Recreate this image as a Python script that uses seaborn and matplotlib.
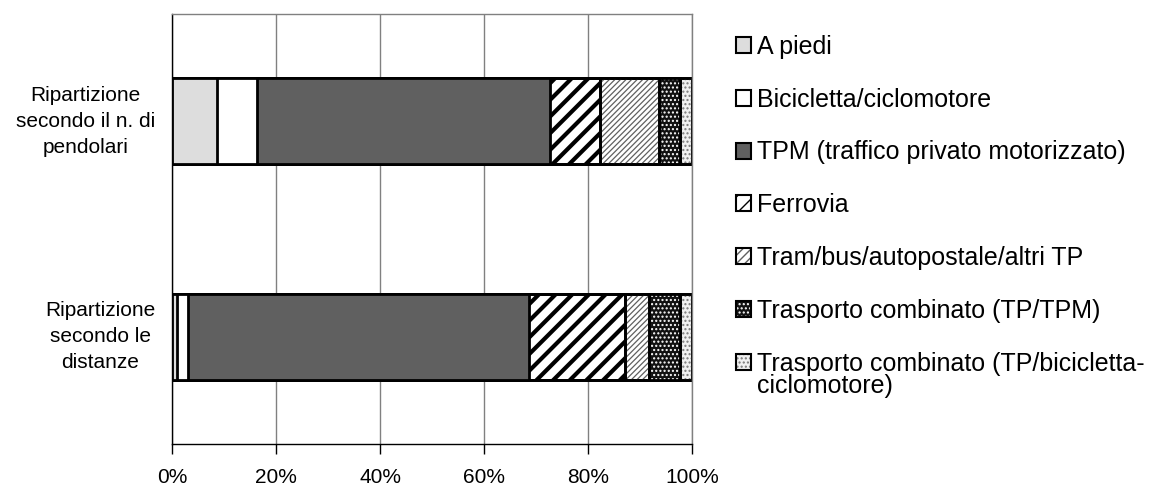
import numpy as np
import pandas as pd
import matplotlib
matplotlib.use("Agg")
import matplotlib.pyplot as plt
import seaborn as sns
from matplotlib.patches import Patch
from matplotlib.legend_handler import HandlerTuple

# ---------------- data ----------------
categories = ["Ripartizione\nsecondo il n. di\npendolari",
              "Ripartizione\nsecondo le\ndistanze"]
modes = ["A piedi",
         "Bicicletta/ciclomotore",
         "TPM (traffico privato motorizzato)",
         "Ferrovia",
         "Tram/bus/autopostale/altri TP",
         "Trasporto combinato (TP/TPM)",
         "Trasporto combinato (TP/bicicletta-ciclomotore)"]
a_piedi = [8.6, 1.0]
bicicletta = [7.8, 2.0]
tpm = [56.3, 65.6]
ferrovia = [9.7, 18.5]
tram_bus = [11.3, 4.6]
comb_tp_tpm = [4.0, 6.0]
comb_tp_bici = [2.3, 2.3]
x_ticks = [0, 20, 40, 60, 80, 100]
x_ticklabels = ["0%", "20%", "40%", "60%", "80%", "100%"]

series = [a_piedi, bicicletta, tpm, ferrovia, tram_bus, comb_tp_tpm, comb_tp_bici]

# styles: facecolor, hatch, hatch color, hatch linewidth
styles = [
    ("#dddddd", None, None, 1.0),
    ("#ffffff", None, None, 1.0),
    ("#606060", None, None, 1.0),
    ("#ffffff", "//", "#000000", 3.0),
    ("#ffffff", "//////", "#606060", 0.9),
    ("#111111", "....", "#ffffff", 1.0),
    ("#f0f0f0", "....", "#7a7a7a", 1.0),
]
legend_hatches = [None, None, None, "//", "////", "....", "...."]
legend_hatch_lw = [1.0, 1.0, 1.0, 3.0, 1.5, 1.0, 1.0]

# ---------------- figure ----------------
sns.set_theme(style="white")
plt.rcParams["font.family"] = ["Liberation Sans", "DejaVu Sans"]
plt.rcParams.update({"text.color": "black", "xtick.color": "black",
                     "ytick.color": "black", "axes.labelcolor": "black"})

fig = plt.figure(figsize=(11.76, 4.86), dpi=100)
ax = fig.add_axes([172 / 1176, 42 / 486, 520 / 1176, 430 / 486])

df = pd.DataFrame({"category": categories})
cum = np.cumsum(np.array(series), axis=0)
for k in range(len(series) - 1, -1, -1):
    df["value"] = cum[k]
    fc, hatch, hc, hlw = styles[k]
    sns.barplot(data=df, x="value", y="category", orient="h", order=categories,
                color=fc, saturation=1, width=0.4, edgecolor="black",
                linewidth=2.0, errorbar=None, ax=ax, zorder=2)
    if hatch:
        with plt.rc_context({"hatch.linewidth": hlw}):
            n1 = len(ax.patches)
            sns.barplot(data=df, x="value", y="category", orient="h", order=categories,
                        color=fc, saturation=1, width=0.4, errorbar=None, ax=ax,
                        facecolor="none", edgecolor=hc, linewidth=0, hatch=hatch,
                        zorder=2)
            for p in ax.patches[n1:]:
                try:
                    p.set_hatch_linewidth(hlw)
                except Exception:
                    pass
        sns.barplot(data=df, x="value", y="category", orient="h", order=categories,
                    color=fc, saturation=1, width=0.4, errorbar=None, ax=ax,
                    facecolor="none", edgecolor="black", linewidth=2.0, zorder=2)

ax.set_xlim(0, 100)
ax.set_ylim(1.5, -0.5)
ax.set_xticks(x_ticks)
ax.set_xticklabels(x_ticklabels, fontsize=15, color="black")
ax.set_xlabel("")
ax.set_ylabel("")
ax.set_yticks(range(len(categories)))
ax.set_yticklabels(categories, fontsize=15, ha="right", va="center",
                   multialignment="center", linespacing=1.45, color="black")
ax.tick_params(axis="y", length=0, pad=12)
ax.tick_params(axis="x", direction="out", length=7, width=1, color="black", pad=10,
               bottom=True)
ax.xaxis.grid(True, color="#808080", linewidth=1.0, zorder=0)
ax.yaxis.grid(False)
ax.set_axisbelow(True)
for side in ["left", "bottom"]:
    ax.spines[side].set_color("black")
    ax.spines[side].set_linewidth(1.0)
for side in ["top", "right"]:
    ax.spines[side].set_color("#808080")
    ax.spines[side].set_linewidth(1.0)
for s in ax.spines.values():
    s.set_visible(True)

# ---------------- legend ----------------
handles = []
for (fc, hatch, hc, hlw), lh, llw in zip(styles, legend_hatches, legend_hatch_lw):
    parts = [Patch(facecolor=fc, edgecolor="none")]
    if lh:
        with plt.rc_context({"hatch.linewidth": llw}):
            hp = Patch(facecolor="none", edgecolor=hc, linewidth=0, hatch=lh)
            try:
                hp.set_hatch_linewidth(llw)
            except Exception:
                pass
        parts.append(hp)
    parts.append(Patch(facecolor="none", edgecolor="black", linewidth=1.5))
    handles.append(tuple(parts))

labels = modes[:-1] + ["Trasporto combinato (TP/bicicletta-"]
leg = fig.legend(handles, labels, loc="upper left", bbox_to_anchor=(736 / 1176, 1 - 35 / 486),
                 frameon=False, fontsize=18, handlelength=0.6, handleheight=0.6,
                 handletextpad=0.25, labelspacing=1.15, borderpad=0, borderaxespad=0,
                 labelcolor="black",
                 handler_map={tuple: HandlerTuple(ndivide=1, pad=0)})
fig.text(757 / 1176, 1 - 386 / 486, "ciclomotore)", fontsize=18, va="center", ha="left",
         color="black")

fig.savefig("out.png", dpi=100)
